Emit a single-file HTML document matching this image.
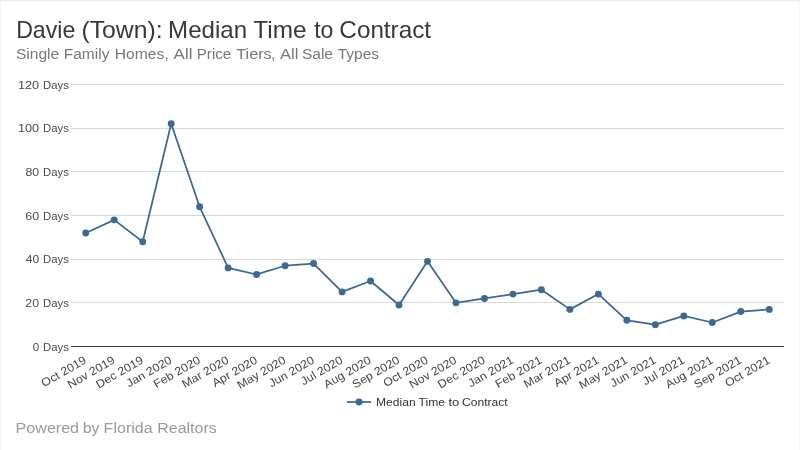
<!DOCTYPE html>
<html><head><meta charset="utf-8"><title>Davie (Town): Median Time to Contract</title>
<style>
html,body{margin:0;padding:0;background:#fff;}
body{width:800px;height:450px;overflow:hidden;font-family:"Liberation Sans",sans-serif;}
svg{display:block;}
text{font-family:"Liberation Sans",sans-serif;}
</style></head><body>
<svg width="800" height="450" viewBox="0 0 800 450">
<rect x="0" y="0" width="800" height="450" fill="#ffffff"/>
<rect x="0" y="0" width="800" height="1" fill="#ececec"/>
<rect x="0" y="1" width="800" height="1" fill="#fafafa"/>
<rect x="0" y="0" width="1" height="450" fill="#f3f3f3"/>
<rect x="799" y="0" width="1" height="450" fill="#f6f6f6"/>
<text y="37.7" font-size="23.4" fill="#383838"><tspan x="16.15" textLength="59.21" lengthAdjust="spacingAndGlyphs">Davie</tspan> <tspan x="81.52" textLength="81.06" lengthAdjust="spacingAndGlyphs">(Town):</tspan> <tspan x="168.07" textLength="79.00" lengthAdjust="spacingAndGlyphs">Median</tspan> <tspan x="253.26" textLength="53.34" lengthAdjust="spacingAndGlyphs">Time</tspan> <tspan x="314.15" textLength="19.19" lengthAdjust="spacingAndGlyphs">to</tspan> <tspan x="339.39" textLength="91.68" lengthAdjust="spacingAndGlyphs">Contract</tspan></text>
<text y="58.6" font-size="15.5" fill="#777777"><tspan x="15.90" textLength="43.34" lengthAdjust="spacingAndGlyphs">Single</tspan> <tspan x="63.76" textLength="45.64" lengthAdjust="spacingAndGlyphs">Family</tspan> <tspan x="114.75" textLength="49.50" lengthAdjust="spacingAndGlyphs">Homes</tspan><tspan x="164.58">,</tspan> <tspan x="173.60" textLength="18.85" lengthAdjust="spacingAndGlyphs">All</tspan> <tspan x="196.79" textLength="34.43" lengthAdjust="spacingAndGlyphs">Price</tspan> <tspan x="236.28" textLength="35.39" lengthAdjust="spacingAndGlyphs">Tiers</tspan><tspan x="271.08">,</tspan> <tspan x="279.90" textLength="18.54" lengthAdjust="spacingAndGlyphs">All</tspan> <tspan x="301.90" textLength="31.14" lengthAdjust="spacingAndGlyphs">Sale</tspan> <tspan x="337.69" textLength="41.45" lengthAdjust="spacingAndGlyphs">Types</tspan></text>
<text y="432.8" font-size="15.5" fill="#9a9a9a"><tspan x="15.61" textLength="63.47" lengthAdjust="spacingAndGlyphs">Powered</tspan> <tspan x="82.65" textLength="16.75" lengthAdjust="spacingAndGlyphs">by</tspan> <tspan x="103.61" textLength="49.12" lengthAdjust="spacingAndGlyphs">Florida</tspan> <tspan x="157.22" textLength="59.54" lengthAdjust="spacingAndGlyphs">Realtors</tspan></text>
<text y="406" font-size="11.5" fill="#333333"><tspan x="376.03" textLength="39.60" lengthAdjust="spacingAndGlyphs">Median</tspan> <tspan x="418.56" textLength="26.54" lengthAdjust="spacingAndGlyphs">Time</tspan> <tspan x="448.51" textLength="10.83" lengthAdjust="spacingAndGlyphs">to</tspan> <tspan x="462.00" textLength="45.64" lengthAdjust="spacingAndGlyphs">Contract</tspan></text>
<text y="350.6" font-size="11.5" fill="#4a4a4a"><tspan x="32.70" textLength="6.42" lengthAdjust="spacingAndGlyphs">0</tspan> <tspan x="43.09" textLength="25.80" lengthAdjust="spacingAndGlyphs">Days</tspan></text>
<text y="306.93" font-size="11.5" fill="#4a4a4a"><tspan x="25.38" textLength="13.77" lengthAdjust="spacingAndGlyphs">20</tspan> <tspan x="43.09" textLength="25.80" lengthAdjust="spacingAndGlyphs">Days</tspan></text>
<text y="263.27" font-size="11.5" fill="#4a4a4a"><tspan x="25.76" textLength="13.38" lengthAdjust="spacingAndGlyphs">40</tspan> <tspan x="43.09" textLength="25.80" lengthAdjust="spacingAndGlyphs">Days</tspan></text>
<text y="219.6" font-size="11.5" fill="#4a4a4a"><tspan x="25.38" textLength="13.77" lengthAdjust="spacingAndGlyphs">60</tspan> <tspan x="43.09" textLength="25.80" lengthAdjust="spacingAndGlyphs">Days</tspan></text>
<text y="175.93" font-size="11.5" fill="#4a4a4a"><tspan x="25.51" textLength="13.63" lengthAdjust="spacingAndGlyphs">80</tspan> <tspan x="43.09" textLength="25.80" lengthAdjust="spacingAndGlyphs">Days</tspan></text>
<text y="132.27" font-size="11.5" fill="#4a4a4a"><tspan x="17.95" textLength="21.21" lengthAdjust="spacingAndGlyphs">100</tspan> <tspan x="43.09" textLength="25.80" lengthAdjust="spacingAndGlyphs">Days</tspan></text>
<text y="88.6" font-size="11.5" fill="#4a4a4a"><tspan x="17.95" textLength="21.21" lengthAdjust="spacingAndGlyphs">120</tspan> <tspan x="43.09" textLength="25.80" lengthAdjust="spacingAndGlyphs">Days</tspan></text>
<path d="M71 302.5 H784" stroke="#d8d8d8" stroke-width="1" fill="none"/>
<path d="M71 259.5 H784" stroke="#d8d8d8" stroke-width="1" fill="none"/>
<path d="M71 215.5 H784" stroke="#d8d8d8" stroke-width="1" fill="none"/>
<path d="M71 171.5 H784" stroke="#d8d8d8" stroke-width="1" fill="none"/>
<path d="M71 128.5 H784" stroke="#d8d8d8" stroke-width="1" fill="none"/>
<path d="M71 84.5 H784" stroke="#d8d8d8" stroke-width="1" fill="none"/>
<path d="M71 346.5 H784" stroke="#3c3c3c" stroke-width="1" fill="none"/>
<text transform="translate(87.2,362.4) rotate(-30) scale(1.067,1)" font-size="11.5" fill="#444444" text-anchor="end">Oct 2019</text>
<text transform="translate(115.7,362.4) rotate(-30) scale(1.067,1)" font-size="11.5" fill="#444444" text-anchor="end">Nov 2019</text>
<text transform="translate(144.2,362.4) rotate(-30) scale(1.067,1)" font-size="11.5" fill="#444444" text-anchor="end">Dec 2019</text>
<text transform="translate(172.7,362.4) rotate(-30) scale(1.067,1)" font-size="11.5" fill="#444444" text-anchor="end">Jan 2020</text>
<text transform="translate(201.2,362.4) rotate(-30) scale(1.067,1)" font-size="11.5" fill="#444444" text-anchor="end">Feb 2020</text>
<text transform="translate(229.6,362.4) rotate(-30) scale(1.067,1)" font-size="11.5" fill="#444444" text-anchor="end">Mar 2020</text>
<text transform="translate(258.1,362.4) rotate(-30) scale(1.067,1)" font-size="11.5" fill="#444444" text-anchor="end">Apr 2020</text>
<text transform="translate(286.6,362.4) rotate(-30) scale(1.067,1)" font-size="11.5" fill="#444444" text-anchor="end">May 2020</text>
<text transform="translate(315.1,362.4) rotate(-30) scale(1.067,1)" font-size="11.5" fill="#444444" text-anchor="end">Jun 2020</text>
<text transform="translate(343.6,362.4) rotate(-30) scale(1.067,1)" font-size="11.5" fill="#444444" text-anchor="end">Jul 2020</text>
<text transform="translate(372.0,362.4) rotate(-30) scale(1.067,1)" font-size="11.5" fill="#444444" text-anchor="end">Aug 2020</text>
<text transform="translate(400.5,362.4) rotate(-30) scale(1.067,1)" font-size="11.5" fill="#444444" text-anchor="end">Sep 2020</text>
<text transform="translate(429.0,362.4) rotate(-30) scale(1.067,1)" font-size="11.5" fill="#444444" text-anchor="end">Oct 2020</text>
<text transform="translate(457.5,362.4) rotate(-30) scale(1.067,1)" font-size="11.5" fill="#444444" text-anchor="end">Nov 2020</text>
<text transform="translate(486.0,362.4) rotate(-30) scale(1.067,1)" font-size="11.5" fill="#444444" text-anchor="end">Dec 2020</text>
<text transform="translate(514.4,362.4) rotate(-30) scale(1.067,1)" font-size="11.5" fill="#444444" text-anchor="end">Jan 2021</text>
<text transform="translate(542.9,362.4) rotate(-30) scale(1.067,1)" font-size="11.5" fill="#444444" text-anchor="end">Feb 2021</text>
<text transform="translate(571.4,362.4) rotate(-30) scale(1.067,1)" font-size="11.5" fill="#444444" text-anchor="end">Mar 2021</text>
<text transform="translate(599.9,362.4) rotate(-30) scale(1.067,1)" font-size="11.5" fill="#444444" text-anchor="end">Apr 2021</text>
<text transform="translate(628.4,362.4) rotate(-30) scale(1.067,1)" font-size="11.5" fill="#444444" text-anchor="end">May 2021</text>
<text transform="translate(656.8,362.4) rotate(-30) scale(1.067,1)" font-size="11.5" fill="#444444" text-anchor="end">Jun 2021</text>
<text transform="translate(685.3,362.4) rotate(-30) scale(1.067,1)" font-size="11.5" fill="#444444" text-anchor="end">Jul 2021</text>
<text transform="translate(713.8,362.4) rotate(-30) scale(1.067,1)" font-size="11.5" fill="#444444" text-anchor="end">Aug 2021</text>
<text transform="translate(742.3,362.4) rotate(-30) scale(1.067,1)" font-size="11.5" fill="#444444" text-anchor="end">Sep 2021</text>
<text transform="translate(770.8,362.4) rotate(-30) scale(1.067,1)" font-size="11.5" fill="#444444" text-anchor="end">Oct 2021</text>
<polyline points="85.74,232.97 114.22,219.87 142.70,241.70 171.18,123.80 199.66,206.77 228.14,267.90 256.62,274.45 285.10,265.72 313.58,263.53 342.06,291.92 370.54,281.00 399.02,305.02 427.50,261.35 455.98,302.83 484.46,298.47 512.94,294.10 541.42,289.73 569.90,309.38 598.38,294.10 626.86,320.30 655.34,324.67 683.82,315.93 712.30,322.48 740.78,311.57 769.26,309.38" fill="none" stroke="#3c6891" stroke-width="1.75" stroke-linejoin="round" stroke-linecap="round"/>
<circle cx="85.74" cy="232.97" r="3.45" fill="#3c6891"/>
<circle cx="114.22" cy="219.87" r="3.45" fill="#3c6891"/>
<circle cx="142.70" cy="241.70" r="3.45" fill="#3c6891"/>
<circle cx="171.18" cy="123.80" r="3.45" fill="#3c6891"/>
<circle cx="199.66" cy="206.77" r="3.45" fill="#3c6891"/>
<circle cx="228.14" cy="267.90" r="3.45" fill="#3c6891"/>
<circle cx="256.62" cy="274.45" r="3.45" fill="#3c6891"/>
<circle cx="285.10" cy="265.72" r="3.45" fill="#3c6891"/>
<circle cx="313.58" cy="263.53" r="3.45" fill="#3c6891"/>
<circle cx="342.06" cy="291.92" r="3.45" fill="#3c6891"/>
<circle cx="370.54" cy="281.00" r="3.45" fill="#3c6891"/>
<circle cx="399.02" cy="305.02" r="3.45" fill="#3c6891"/>
<circle cx="427.50" cy="261.35" r="3.45" fill="#3c6891"/>
<circle cx="455.98" cy="302.83" r="3.45" fill="#3c6891"/>
<circle cx="484.46" cy="298.47" r="3.45" fill="#3c6891"/>
<circle cx="512.94" cy="294.10" r="3.45" fill="#3c6891"/>
<circle cx="541.42" cy="289.73" r="3.45" fill="#3c6891"/>
<circle cx="569.90" cy="309.38" r="3.45" fill="#3c6891"/>
<circle cx="598.38" cy="294.10" r="3.45" fill="#3c6891"/>
<circle cx="626.86" cy="320.30" r="3.45" fill="#3c6891"/>
<circle cx="655.34" cy="324.67" r="3.45" fill="#3c6891"/>
<circle cx="683.82" cy="315.93" r="3.45" fill="#3c6891"/>
<circle cx="712.30" cy="322.48" r="3.45" fill="#3c6891"/>
<circle cx="740.78" cy="311.57" r="3.45" fill="#3c6891"/>
<circle cx="769.26" cy="309.38" r="3.45" fill="#3c6891"/>
<path d="M347 402 H371" stroke="#3c6891" stroke-width="1.75" fill="none"/>
<circle cx="359" cy="402" r="3.45" fill="#3c6891"/>
</svg></body></html>
